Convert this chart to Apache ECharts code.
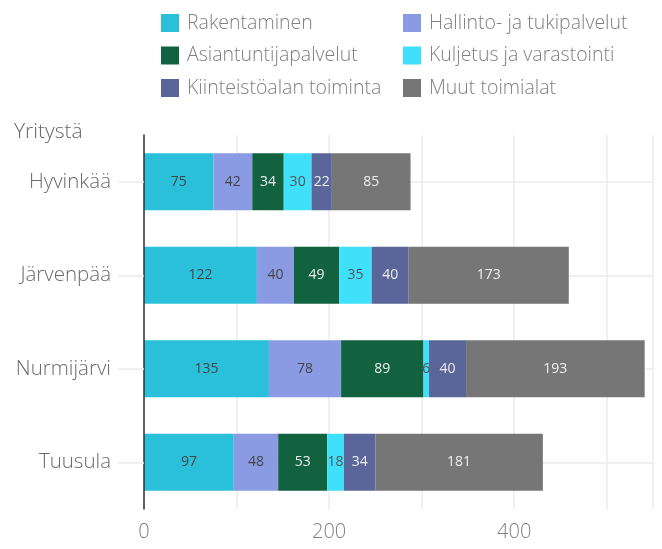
<!DOCTYPE html>
<html>
<head>
<meta charset="utf-8">
<script src="https://cdn.jsdelivr.net/npm/echarts@6/dist/echarts.min.js"></script>
<style>
  html, body { margin: 0; padding: 0; background: #fff; }
  #chart { width: 662px; height: 549px; }
</style>
</head>
<body>
<div id="chart"></div>
<script>
const kunnat = ['Hyvinkää', 'Järvenpää', 'Nurmijärvi', 'Tuusula']
const toimialat = [
  'Rakentaminen',
  'Hallinto- ja tukipalvelut',
  'Asiantuntijapalvelut',
  'Kuljetus ja varastointi',
  'Kiinteistöalan toiminta',
  'Muut toimialat'
]
const rakentaminen = [75, 122, 135, 97]
const hallinto = [42, 40, 78, 48]
const asiantuntija = [34, 49, 89, 53]
const kuljetus = [30, 35, 6, 18]
const kiinteisto = [22, 40, 40, 34]
const muut = [85, 173, 193, 181]
const xTicks = [0, 200, 400]

const values = [rakentaminen, hallinto, asiantuntija, kuljetus, kiinteisto, muut]
const colors = ['#2bc0da', '#8a9be3', '#126240', '#3ee0fb', '#5a6699', '#767676']
const labelColors = ['#444', '#444', '#eee', '#555', '#eee', '#eee']
const font = '"Open Sans", Lato, sans-serif'

const myChart = echarts.init(document.getElementById('chart'))

const series = toimialat.map((name, i) => ({
  name: name,
  type: 'bar',
  stack: 'total',
  yAxisIndex: 0,
  barWidth: 57,
  data: values[i],
  itemStyle: { color: colors[i] },
  label: {
    show: true,
    position: 'inside',
    color: labelColors[i],
    fontFamily: font,
    fontSize: 14
  }
}))

const legendText = { color: '#808080', fontSize: 19.5, fontWeight: 300, fontFamily: font, padding: [0, 0, 0, 3] }

myChart.setOption({
  animation: false,
  title: {
    text: 'Yritystä',
    left: 9,
    top: 117,
    textStyle: { color: '#666', fontSize: 21, fontWeight: 300, fontFamily: font }
  },
  legend: [
    {
      orient: 'vertical',
      left: 156,
      top: 8,
      itemWidth: 18,
      itemHeight: 18,
      itemGap: 12.5,
      icon: 'rect',
      textStyle: legendText,
      data: [toimialat[0], toimialat[2], toimialat[4]]
    },
    {
      orient: 'vertical',
      left: 398,
      top: 8,
      itemWidth: 18,
      itemHeight: 18,
      itemGap: 12.5,
      icon: 'rect',
      textStyle: legendText,
      data: [toimialat[1], toimialat[3], toimialat[5]]
    }
  ],
  grid: { left: 144, right: 9, top: 135, bottom: 40, containLabel: false },
  xAxis: {
    type: 'value',
    min: 0,
    max: 550,
    interval: 100,
    axisLine: { show: false },
    axisTick: { show: false },
    splitLine: { show: true, lineStyle: { color: '#ebebeb', width: 1.5 } },
    axisLabel: {
      color: '#808080',
      fontSize: 20,
      fontWeight: 300,
      fontFamily: font,
      margin: 13,
      formatter: v => (xTicks.includes(v) ? String(v) : '')
    }
  },
  yAxis: [
    {
      type: 'category',
      inverse: true,
      data: kunnat,
      axisLine: { show: true, lineStyle: { color: '#333', width: 1.5 } },
      axisTick: { show: true, alignWithLabel: true, length: 26, lineStyle: { color: '#ebebeb', width: 1.5 } },
      axisLabel: { color: '#6a6a6a', fontSize: 20.5, fontWeight: 300, fontFamily: font, margin: 33 },
      splitLine: { show: false },
      z: 3
    },
    {
      type: 'category',
      inverse: true,
      position: 'left',
      data: kunnat,
      axisLine: { show: false },
      axisTick: { show: true, inside: true, alignWithLabel: true, length: 510, lineStyle: { color: '#ebebeb', width: 1.5 } },
      axisLabel: { show: false },
      z: 0
    }
  ],
  series: series
})
</script>
</body>
</html>
